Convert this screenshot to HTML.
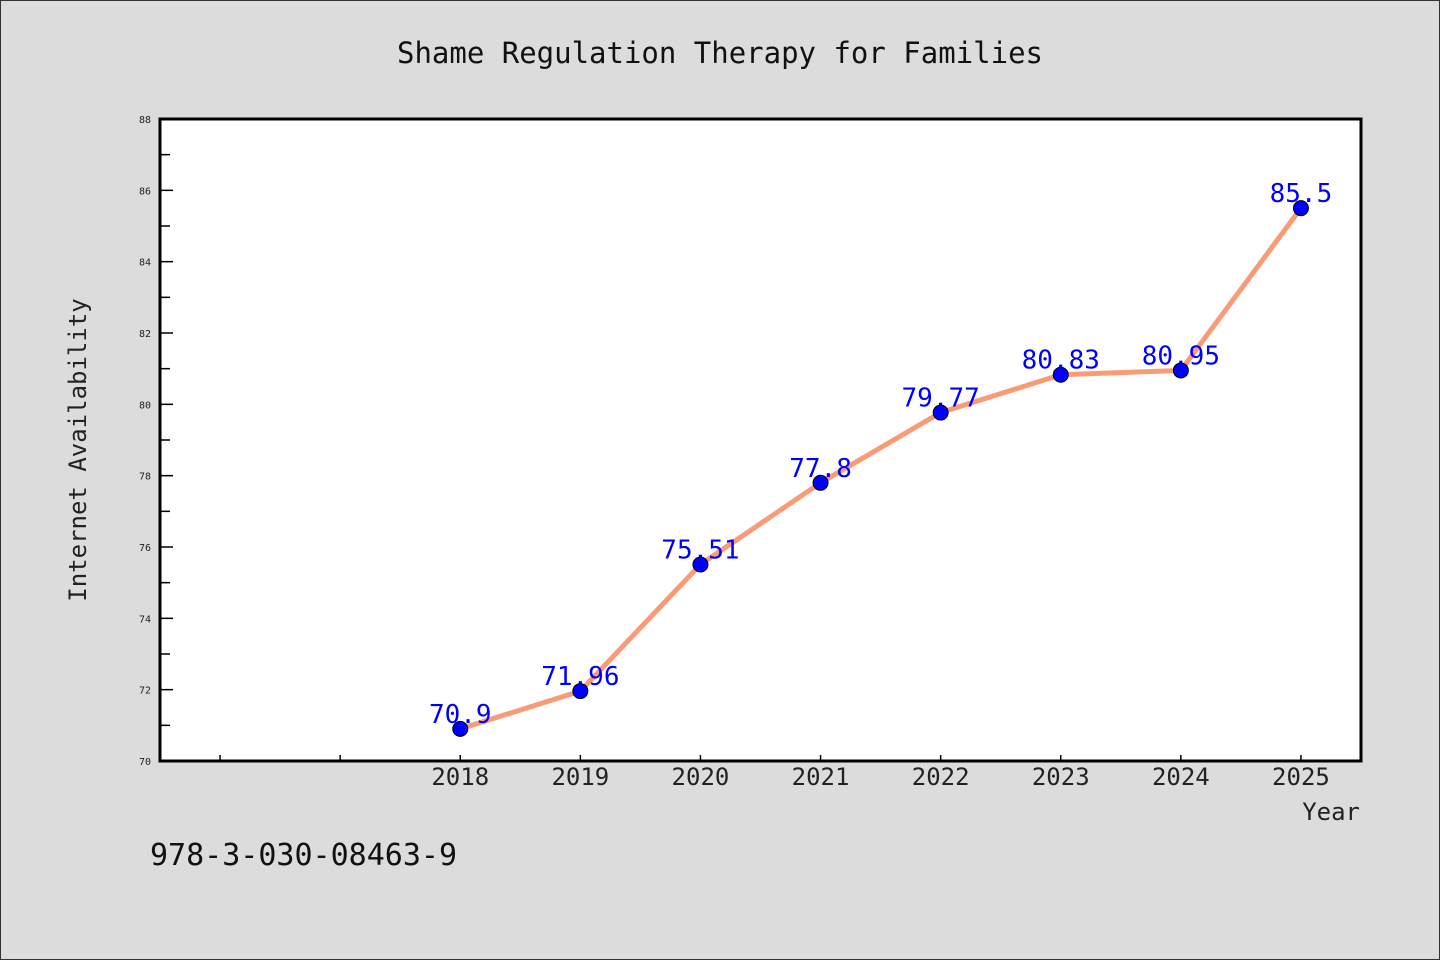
<!DOCTYPE html>
<html><head><meta charset="utf-8"><style>
html,body{margin:0;padding:0;background:#dcdcdc;}
svg{display:block;font-family:"WenQuanYi Zen Hei Mono","WenQuanYi Zen Hei","DejaVu Sans Mono",monospace;}
</style></head><body>
<svg id="chart" width="1440" height="960" viewBox="0 0 1440 960">
<rect x="0.5" y="0.5" width="1439" height="959" fill="#dcdcdc" stroke="#333"/>
<text x="720" y="63" text-anchor="middle" font-size="29" fill="#111">Shame Regulation Therapy for Families</text>
<rect x="160" y="119" width="1201" height="642" fill="#fff"/>
<g id="axes"></g>
<g id="series"></g>
<rect x="160" y="119" width="1201" height="642" fill="none" stroke="#000" stroke-width="3"/>
<text x="86" y="450" text-anchor="middle" font-size="24" fill="#222" transform="rotate(-90 86 450)">Internet Availability</text>
<text x="1360" y="820" text-anchor="end" font-size="24" fill="#222">Year</text>
<text x="150" y="865" font-size="30" fill="#111">978-3-030-08463-9</text>
</svg>
<script>
const years=[2018,2019,2020,2021,2022,2023,2024,2025];
const values=[70.9,71.96,75.51,77.8,79.77,80.83,80.95,85.5];
const labels=["70.9","71.96","75.51","77.8","79.77","80.83","80.95","85.5"];
const yTicks=[70,72,74,76,78,80,82,84,86,88];
const xTicks=[2016,2017,2018,2019,2020,2021,2022,2023,2024,2025];
const NS="http://www.w3.org/2000/svg";
const x0=160,x1=1361,y0=761,y1=119,xmin=2015.5,xmax=2025.5,ymin=70,ymax=88;
const X=v=>x0+(v-xmin)/(xmax-xmin)*(x1-x0);
const Y=v=>y0-(v-ymin)/(ymax-ymin)*(y0-y1);
function mk(t,a,p){const e=document.createElementNS(NS,t);for(const k in a)e.setAttribute(k,a[k]);p.appendChild(e);return e;}
const ax=document.getElementById('axes');
for(let v=ymin;v<=ymax;v++){
 const major=(v%2===0);
 const l=mk('line',{x1:x0,x2:x0+(major?13:10),y1:Y(v),y2:Y(v),stroke:'#000','stroke-width':1.5},ax);
 
 
}
yTicks.forEach(v=>{
 const t=mk('text',{x:151,y:Y(v)+4,'text-anchor':'end','font-size':10,fill:'#222'},ax);
 t.textContent=v;
 
 
});
xTicks.forEach(v=>{
 const l=mk('line',{x1:X(v),x2:X(v),y1:y0,y2:y0-6,stroke:'#000','stroke-width':1.5},ax);
 
 
});
years.forEach(v=>{
 const t=mk('text',{x:X(v),y:785,'text-anchor':'middle','font-size':24,fill:'#222'},ax);
 t.textContent=v;
 
 
});
const s=document.getElementById('series');
const pl=mk('polyline',{points:years.map((y,i)=>X(y)+','+Y(values[i])).join(' '),fill:'none',stroke:'#fa9b78','stroke-width':5,'stroke-linejoin':'round'},s);


years.forEach((y,i)=>{
 const t=mk('text',{x:X(y),y:Y(values[i])-6,'text-anchor':'middle','font-size':26,fill:'#0000ff'},s);
 t.textContent=labels[i];
 
 
});
years.forEach((y,i)=>{
 const c=mk('circle',{cx:X(y),cy:Y(values[i]),r:7.5,fill:'#0000ff',stroke:'#000','stroke-width':1},s);
 
 
});
</script>
</body></html>
